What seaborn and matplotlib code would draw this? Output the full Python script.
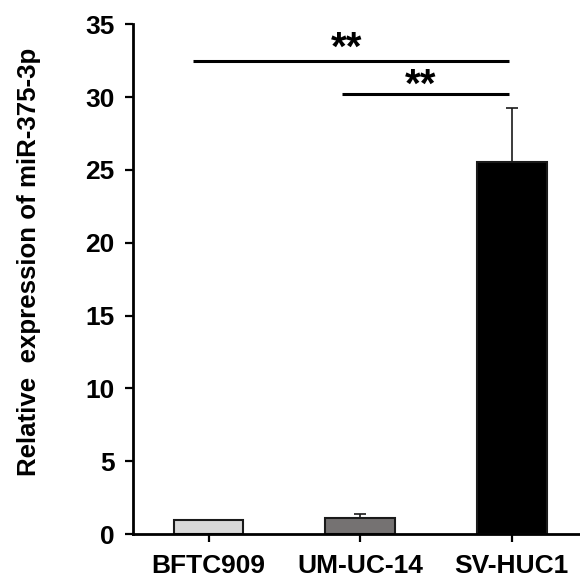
import numpy as np
import pandas as pd
import matplotlib
matplotlib.use('Agg')
import matplotlib.pyplot as plt
import seaborn as sns

# values
cell_lines = ['BFTC909', 'UM-UC-14', 'SV-HUC1']
expression = [1.0, 1.12, 25.55]
sd_upper = [0.0, 0.27, 3.67]
bar_colors = ['#d9d9d9', '#767171', '#000000']

# significance brackets: (x start, x end, y, star x, star y)
sig_x0 = [-0.10, 0.88]
sig_x1 = [1.98, 1.98]
sig_y = [32.5, 30.2]
sig_text_x = [0.91, 1.40]
sig_text_y = [32.0, 29.5]
sig_labels = ['**', '**']

y_ticks = [0, 5, 10, 15, 20, 25, 30, 35]

df = pd.DataFrame({'cell': cell_lines, 'expr': expression})

sns.set_style('ticks')
plt.rcParams['font.family'] = ['Liberation Sans', 'DejaVu Sans']
plt.rcParams['font.weight'] = 'bold'
plt.rcParams['text.color'] = 'black'
plt.rcParams['xtick.color'] = 'black'
plt.rcParams['ytick.color'] = 'black'

fig = plt.figure(figsize=(5.8, 5.78), dpi=100)
ax = fig.add_axes([0.229, 0.076, 0.771, 0.882])

sns.barplot(data=df, x='cell', y='expr', hue='cell', palette=bar_colors,
            width=0.46, edgecolor='#1a1a1a', linewidth=1.5, legend=False,
            errorbar=None, ax=ax)

# one-sided error bars (upper only)
for i, (v, e) in enumerate(zip(expression, sd_upper)):
    if e > 0:
        ax.errorbar(i, v, yerr=[[0], [e]], fmt='none', ecolor='#1a1a1a',
                    elinewidth=1.2, capsize=4, capthick=1.2)

for x0, x1, y, tx, ty, lab in zip(sig_x0, sig_x1, sig_y, sig_text_x, sig_text_y, sig_labels):
    ax.plot([x0, x1], [y, y], color='black', lw=2.2, solid_capstyle='butt')
    ax.text(tx, ty, lab, ha='center', va='bottom', fontsize=29, fontweight='bold')

ax.set_xlim(-0.5, 2.45)
ax.set_ylim(0, 35)
ax.set_yticks(y_ticks)
ax.set_xlabel('')
ax.set_ylabel('Relative  expression of miR-375-3p', fontsize=18.6, fontweight='bold',
              color='black')
ax.yaxis.set_label_coords(-0.205, 0.533)
ax.tick_params(axis='y', labelsize=19, width=1.6, length=6, direction='out', pad=7)
ax.tick_params(axis='x', labelsize=19, width=1.6, length=6, direction='out', pad=8)
for lab in ax.get_xticklabels() + ax.get_yticklabels():
    lab.set_fontweight('bold')

sns.despine(ax=ax)
for s in ['left', 'bottom']:
    ax.spines[s].set_linewidth(2)
    ax.spines[s].set_color('black')

fig.savefig('out.png', dpi=100)
